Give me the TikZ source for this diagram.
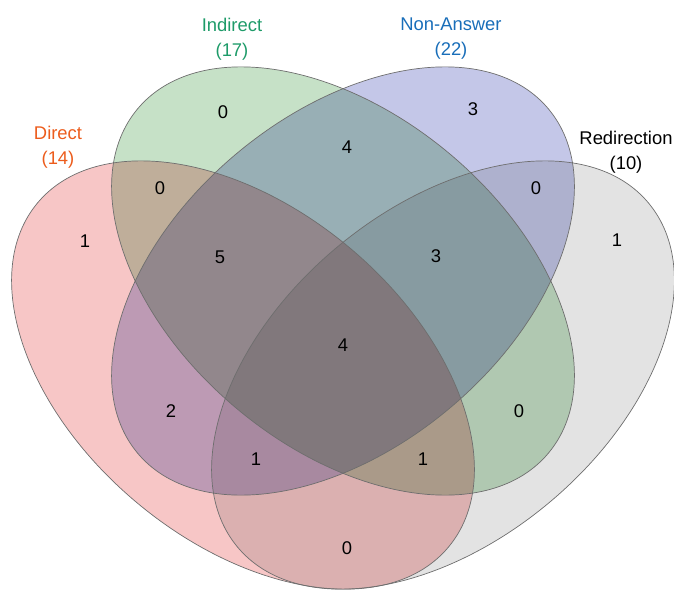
\documentclass[tikz,border=0pt]{standalone}
\usepackage{fontspec}
\setmainfont{Liberation Sans}
\definecolor{dirfill}{RGB}{247,198,198}
\definecolor{indfill}{RGB}{198,225,199}
\definecolor{nonfill}{RGB}{196,199,232}
\definecolor{redfill}{RGB}{227,227,227}
\definecolor{edgegray}{RGB}{110,110,110}
\definecolor{dirtext}{RGB}{236,92,28}
\definecolor{indtext}{RGB}{30,155,105}
\definecolor{nontext}{RGB}{25,110,185}

\begin{document}
\begin{tikzpicture}[x=1pt,y=-1pt,
	set/.style={draw=edgegray,line width=0.7pt},
	count/.style={font=\fontsize{18.4}{22}\selectfont},
	setname/.style={align=center,font=\fontsize{18.4}{25}\selectfont}]
\useasboundingbox (0,0) rectangle (674,589);
% fills, multiplied where they overlap
\begin{scope}[blend group=multiply]
\fill[dirfill,rotate around={-40:(243,375)}] (243,375) ellipse [x radius=268pt,y radius=166pt];
\fill[indfill,rotate around={-40:(343,281)}] (343,281) ellipse [x radius=268pt,y radius=166pt];
\fill[nonfill,rotate around={40:(343,281)}] (343,281) ellipse [x radius=268pt,y radius=166pt];
\fill[redfill,rotate around={40:(443,375)}] (443,375) ellipse [x radius=268pt,y radius=166pt];
\end{scope}
% outlines
\draw[set,rotate around={-40:(243,375)}] (243,375) ellipse [x radius=268pt,y radius=166pt];
\draw[set,rotate around={-40:(343,281)}] (343,281) ellipse [x radius=268pt,y radius=166pt];
\draw[set,rotate around={40:(343,281)}] (343,281) ellipse [x radius=268pt,y radius=166pt];
\draw[set,rotate around={40:(443,375)}] (443,375) ellipse [x radius=268pt,y radius=166pt];
% set names
\node[setname,text=dirtext] (direct) at (58,147) {Direct\\(14)};
\node[setname,text=indtext] (indirect) at (232,39) {Indirect\\(17)};
\node[setname,text=nontext] (nonanswer) at (451,38.5) {Non-Answer\\(22)};
\node[setname] (redirection) at (626,152) {Redirection\\(10)};
% region counts
\node[count] (d) at (85,241) {1};
\node[count] (i) at (223,112) {0};
\node[count] (n) at (473,109) {3};
\node[count] (r) at (617,240) {1};
\node[count] (di) at (160,188) {0};
\node[count] (in) at (347,147) {4};
\node[count] (nr) at (536,188) {0};
\node[count] (din) at (220,257) {5};
\node[count] (inr) at (436,256) {3};
\node[count] (dinr) at (343,345) {4};
\node[count] (dn) at (171,411) {2};
\node[count] (ir) at (519,411) {0};
\node[count] (dnr) at (256,459) {1};
\node[count] (dir) at (423,459) {1};
\node[count] (dr) at (347,548) {0};
\end{tikzpicture}
\end{document}
